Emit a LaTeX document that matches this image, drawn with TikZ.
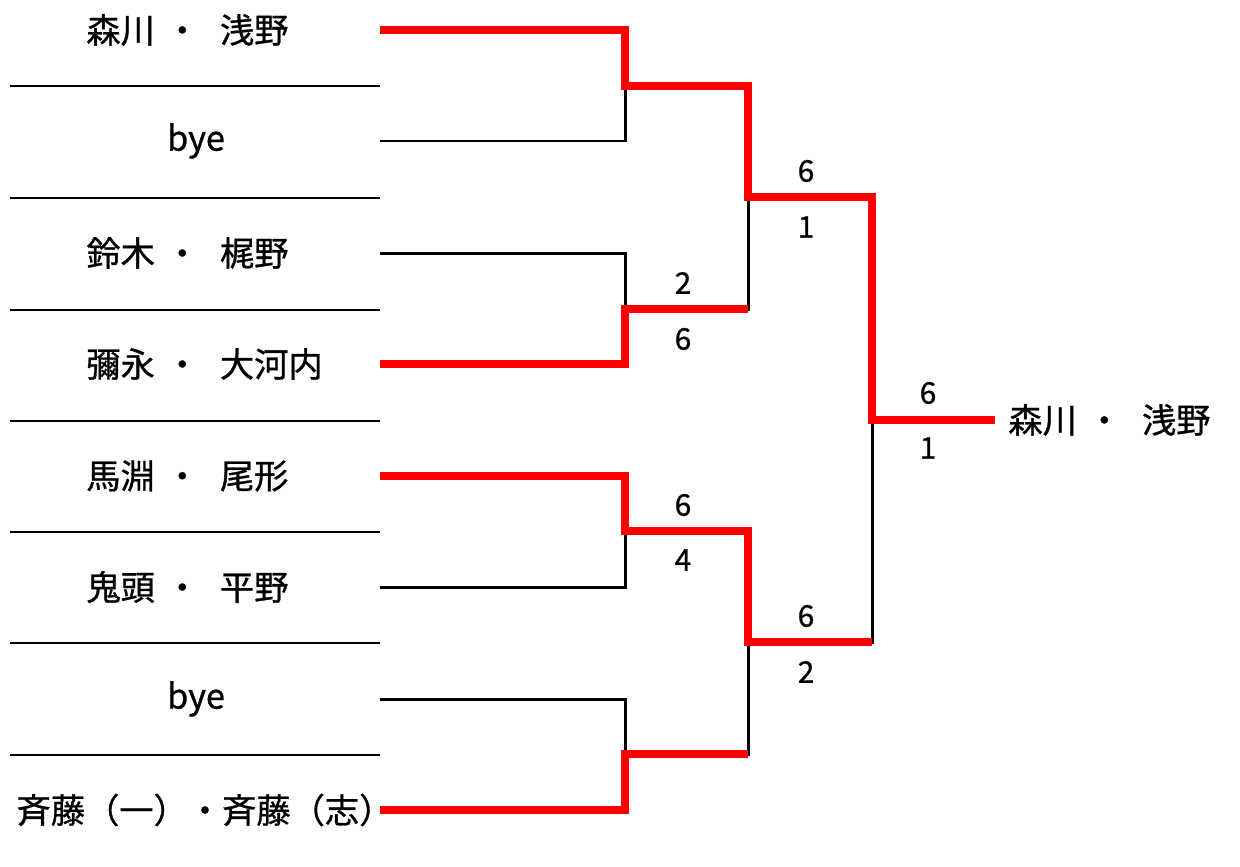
\documentclass[tikz,border=0pt]{standalone}
\usepackage{fontspec}
\newfontfamily\jp[FakeBold=0.8]{Noto Sans CJK JP}
\newcommand{\nkg}{\hspace{0.3em}・\hspace{0.6em}}
\begin{document}
\begin{tikzpicture}[x=0.02cm,y=-0.02cm,
    player/.style={font=\jp\fontsize{19.5}{22}\selectfont, inner sep=0pt},
    pair/.style={player, anchor=west},
    score/.style={font=\jp\fontsize{17}{19}\selectfont, inner sep=0pt},
    sep/.style={line width=0.9pt},
    lose/.style={line width=1.7pt},
    win/.style={red, line width=4.5pt}]
    \useasboundingbox (0,0) rectangle (1240,866);

    % 区切り線
    \foreach \y in {86,198,310,421,532,643,755} {
        \draw[sep] (10,\y) -- (380,\y);
    }

    % 選手名 (左)
    \node[pair]   (p1) at (86,30)   {森川\nkg 浅野};
    \node[player] (p2) at (196,141) {bye};
    \node[pair]   (p3) at (86,253)  {鈴木\nkg 梶野};
    \node[pair]   (p4) at (86,364)  {彌永\nkg 大河内};
    \node[pair]   (p5) at (86,476)  {馬淵\nkg 尾形};
    \node[pair]   (p6) at (86,587)  {鬼頭\nkg 平野};
    \node[player] (p7) at (196,699) {bye};
    \node[player] (p8) at (205,810) {斉藤（一）・斉藤（志）};

    % 線の始点
    \foreach \y [count=\i] in {30,141,253,364,476,587,699,810} {
        \coordinate (e\i) at (380,\y);
    }

    % 各回戦の合流点
    \coordinate (r1a) at (625,86);
    \coordinate (r1b) at (625,309);
    \coordinate (r1c) at (625,531);
    \coordinate (r1d) at (625,754);
    \coordinate (r2a) at (748,197);
    \coordinate (r2b) at (748,642);
    \coordinate (r3)  at (872,420);
    \coordinate (fin) at (995,420);

    % 負け側 (黒)
    \draw[lose] (e2) -| (r1a);
    \draw[lose] (e3) -| (r1b);
    \draw[lose] (e6) -| (r1c);
    \draw[lose] (e7) -| (r1d);
    \draw[lose] (r1b) -| (r2a);
    \draw[lose] (r1d) -| (r2b);
    \draw[lose] (r2b) -| (r3);

    % 勝ち上がり (赤)
    \draw[win] (e1) -| (r1a) -| (r2a) -| (r3) -- (fin);
    \draw[win] (e4) -| (r1b) -- (r1b -| r2a);
    \draw[win] (e5) -| (r1c) -| (r2b) -- (r2b -| r3);
    \draw[win] (e8) -| (r1d) -- (r1d -| r2b);

    % スコア
    \node[score] (s1)  at (683,283) {2};
    \node[score] (s2)  at (683,339) {6};
    \node[score] (s3)  at (683,505) {6};
    \node[score] (s4)  at (683,560) {4};
    \node[score] (s5)  at (806,171) {6};
    \node[score] (s6)  at (806,227) {1};
    \node[score] (s7)  at (806,616) {6};
    \node[score] (s8)  at (806,672) {2};
    \node[score] (s9)  at (928,393) {6};
    \node[score] (s10) at (928,448) {1};

    % 優勝
    \node[pair] (champ) at (1008,420) {森川\nkg 浅野};
\end{tikzpicture}
\end{document}
